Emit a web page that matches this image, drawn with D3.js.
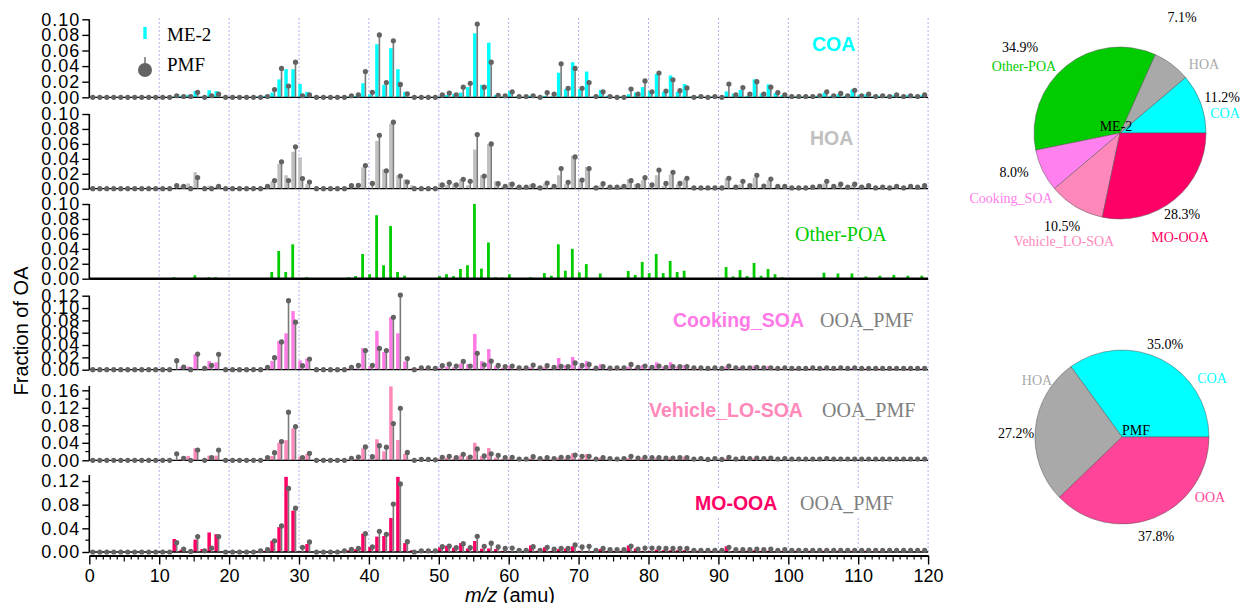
<!DOCTYPE html>
<html><head><meta charset="utf-8">
<script src="https://cdn.jsdelivr.net/npm/d3@7"></script>
<style>body{margin:0;background:#fff} svg{display:block}</style>
</head><body>
<svg id="c" width="1244" height="603"></svg>
<script>
// ---------- DATA (m/z 0..119) ----------
const mz = d3.range(0, 120);
const Z10 = [0,0,0,0,0,0,0,0,0,0];

const COA_ME2 = [...Z10,
 0,0,.001,.002,.003,.008,.001,.009,.008,0,
 0,0,0,0,.001,.002,.006,.023,.036,.036,
 .017,.007,0,0,0,0,0,.001,.002,.018,
 .004,.068,.016,.063,.036,.007,0,0,0,0,
 .001,.003,.004,.006,.013,.082,.016,.070,.003,.001,
 .008,.001,0,.002,0,.002,.001,.0315,.0105,.045,
 .0105,.033,.001,.0095,.002,0,.001,.004,.006,.013,
 .008,.030,.007,.028,.007,.017,.001,.001,0,.001,
 0,.0075,.0045,.0095,.002,.023,.005,.0165,.0055,.003,
 .001,.001,.001,.001,.002,.006,.002,.004,.002,.010,
 .003,.004,.001,.002,.001,.003,.001,.003,.001,.003];
const COA_PMF = [...Z10,
 0,0,.002,.001,.001,.0065,0,.002,.004,0,
 0,0,0,0,0,.001,.010,.037,.0145,.045,
 .002,.003,0,0,0,0,0,.002,.003,.033,
 .0065,.080,.019,.0725,.0165,.0045,0,0,0,0,
 .003,.0055,.003,.013,.018,.094,.013,.045,.0025,.002,
 .007,.001,.001,.002,0,.006,.004,.043,.0115,.037,
 .0115,.019,.001,.007,.001,0,0,.0105,.004,.021,
 .007,.031,.008,.0225,.0085,.012,0,.001,0,.001,
 0,.017,.003,.0125,.004,.020,.004,.013,.006,.003,
 .001,.001,.001,.001,.002,.007,.002,.005,.002,.009,
 .002,.004,.001,.002,.001,.003,.001,.002,.001,.003];
const HOA_ME2 = [...Z10,
 0,0,.001,.004,.007,.022,0,.004,.003,0,
 0,0,0,0,.001,.002,.0098,.0335,.018,.0495,
 .042,.006,0,0,0,0,0,.002,.003,.0285,
 .001,.064,.026,.087,.018,.0125,.0045,.001,0,.001,
 .007,.005,.007,.0125,.0045,.0525,.018,.060,.010,.003,
 .009,.003,.002,.006,.003,.007,.002,.018,.006,.044,
 .0115,.029,.002,.0045,.002,.002,.004,.0125,.006,.0115,
 .002,.018,.004,.019,.0055,.0125,.001,.001,.001,.001,
 .001,.014,.002,.006,.002,.015,.002,.0115,.002,.002,
 .001,.001,.001,.001,.002,.007,.002,.004,.002,.005,
 .002,.003,.001,.002,.001,.003,.001,.002,.001,.003];
const HOA_PMF = [...Z10,
 0,0,.004,.003,0,.015,0,0,.003,0,
 0,0,0,0,0,.003,.011,.036,.011,.056,
 .0135,.009,0,0,0,0,0,.004,.0045,.031,
 .007,.0715,.024,.089,.017,.009,0,0,0,0,
 .005,.0085,.005,.0125,.010,.0725,.017,.060,.0067,.003,
 .006,.002,.002,.004,.001,.0075,.003,.027,.0085,.0425,
 .0115,.027,.001,.0067,.002,.002,.003,.0107,.004,.0147,
 .005,.025,.007,.022,.007,.014,.001,.001,.001,.001,
 .001,.014,.002,.010,.004,.018,.0035,.013,.003,.003,
 .001,.001,.001,.002,.003,.010,.003,.006,.002,.006,
 .002,.004,.001,.002,.001,.003,.001,.003,.002,.004];
const OPOA_ME2 = [...Z10,
 0,0,.002,.001,0,.0045,0,.002,.002,0,
 0,0,0,0,0,.001,.009,.037,.009,.046,
 0,.002,0,0,0,0,0,.002,.0035,.033,
 .006,.085,.018,.0705,.009,.004,0,0,0,0,
 .0035,.006,.0035,.013,.018,.100,.0135,.0485,.002,.0015,
 .006,0,0,.002,0,.0075,.004,.046,.0107,.040,
 .0085,.0195,0,.007,0,0,0,.0103,.005,.0225,
 .0075,.033,.0075,.0237,.009,.0107,0,.001,0,.001,
 0,.0155,.003,.0115,.0035,.021,.004,.013,.006,.002,
 .001,0,.001,.001,0,.008,0,.007,0,.007,
 0,.003,0,.004,0,.005,0,.004,0,.004];
const COOK_ME2 = [...Z10,
 0,0,0,.0043,.005,.025,.001,.014,.012,0,
 0,0,0,0,0,.002,.014,.0465,.059,.095,
 .015,.018,0,0,0,0,0,.002,.002,.035,
 .0054,.063,.0287,.085,.059,.0135,.002,.002,.002,.001,
 .003,.005,.004,.010,.009,.058,.014,.0335,.006,.003,
 .0065,.002,.002,.004,.002,.004,.002,.019,.0075,.0205,
 .004,.014,.002,.009,.002,.002,.002,.005,.003,.0075,
 .003,.012,.005,.012,.005,.0075,.002,.002,.001,.002,
 .001,.0054,.002,.004,.002,.0065,.002,.006,.002,.002,
 .001,.002,.001,.002,.001,.003,.001,.002,.001,.003,
 .001,.002,.001,.002,.001,.002,.001,.002,.001,.002];
const COOK_PMF = [...Z10,
 0,0,.0146,.0043,0,.0254,.002,.007,.025,0,
 0,0,0,0,0,.004,.0195,.045,.112,.077,
 .0065,.0173,0,0,0,0,0,.004,.007,.031,
 .007,.0345,.031,.085,.121,.018,0,.003,.003,.002,
 .0065,.009,.006,.0135,.006,.0265,.008,.014,.007,.005,
 .006,.003,.003,.0075,.003,.0065,.004,.0054,.005,.011,
 .007,.0086,.0025,.005,.0025,.003,.003,.0086,.004,.006,
 .004,.006,.004,.005,.005,.005,.003,.003,.002,.003,
 .002,.006,.003,.003,.003,.004,.003,.003,.002,.003,
 .002,.002,.002,.003,.002,.003,.002,.003,.002,.003,
 .002,.002,.002,.002,.002,.002,.002,.002,.002,.002];
const VEH_ME2 = [...Z10,
 0,0,0,.003,.010,.0275,.001,.0107,.0107,0,
 0,0,0,0,0,.002,.010,.040,.046,.073,
 .0085,.0145,0,0,0,0,0,.002,.003,.027,
 .002,.048,.0206,.169,.0465,.015,.001,.001,.001,.001,
 .004,.006,.004,.0115,.009,.040,.010,.028,.006,.003,
 .004,.001,.001,.004,.001,.003,.001,.006,.004,.016,
 .004,.0145,.002,.006,.001,.001,.001,.005,.002,.006,
 .002,.006,.002,.006,.002,.0084,.001,.001,.001,.001,
 .001,.004,.001,.002,.001,.005,.001,.004,.001,.001,
 .001,.001,.001,.001,.001,.002,.001,.002,.001,.002,
 .001,.001,.001,.001,.001,.001,.001,.001,.001,.001];
const VEH_PMF = [...Z10,
 0,0,.015,.0045,0,.0235,0,.006,.0235,0,
 0,0,0,0,0,.006,.0175,.043,.110,.077,
 .006,.016,0,0,0,0,0,.0045,.0076,.0305,
 .0084,.0335,.030,.084,.119,.018,0,.002,.002,.001,
 .007,.009,.006,.0137,.0076,.026,.010,.015,.0115,.006,
 .007,.003,.003,.0084,.004,.006,.004,.007,.007,.012,
 .009,.009,.003,.006,.004,.003,.004,.009,.005,.007,
 .006,.006,.005,.005,.006,.006,.003,.004,.002,.004,
 .002,.007,.003,.005,.004,.005,.004,.005,.003,.004,
 .003,.003,.003,.003,.003,.004,.003,.003,.003,.003,
 .003,.003,.003,.003,.003,.003,.003,.003,.003,.003];
const MO_ME2 = [...Z10,
 0,0,.022,.004,0,.021,.005,.033,.030,0,
 0,0,0,0,.001,.002,.019,.042,.127,.070,
 .001,.0135,0,0,0,0,0,.003,.005,.031,
 .0085,.026,.027,.0575,.127,.015,.003,.001,.001,.001,
 .008,.0107,.0073,.015,.006,.0186,.0056,.006,.005,.002,
 .001,.001,.001,.011,.002,.008,.002,.005,.006,.0096,
 .002,.001,.001,.005,.002,.002,.002,.011,.006,.002,
 .002,.004,.003,.003,.003,.003,.002,.002,.001,.002,
 .001,.0096,.002,.002,.002,.003,.002,.002,.001,.002,
 .001,.002,.001,.002,.001,.002,.001,.002,.001,.002,
 .001,.002,.001,.001,.001,.001,.001,.001,.001,.001];
const MO_PMF = [...Z10,
 0,0,.0158,.005,.001,.026,.002,.0068,.026,0,
 0,0,0,0,.002,.004,.019,.044,.1075,.074,
 .008,.017,0,0,0,0,.002,.0045,.006,.031,
 .0085,.035,.030,.081,.115,.0175,0,.002,.002,.002,
 .009,.010,.0073,.014,.0073,.0265,.0096,.015,.0085,.006,
 .0068,.003,.003,.009,.003,.008,.005,.006,.006,.012,
 .0085,.0096,.003,.006,.004,.004,.004,.010,.005,.0068,
 .0068,.0068,.006,.006,.006,.006,.003,.003,.003,.003,
 .003,.008,.004,.004,.004,.005,.004,.005,.003,.004,
 .003,.003,.003,.003,.003,.003,.003,.003,.003,.003,
 .003,.003,.003,.003,.003,.003,.003,.003,.003,.003];

const xTickValues = d3.range(0, 121, 10);
const yTicks100 = [0, .02, .04, .06, .08, .10];
const yTicks120 = [0, .02, .04, .06, .08, .10, .12];
const yTicks160 = [0, .04, .08, .12, .16];
const yTicks130 = [0, .04, .08, .12];

const pieME2Names = ["COA", "HOA", "Other-POA", "Cooking_SOA", "Vehicle_LO-SOA", "MO-OOA"];
const pieME2Values = [11.2, 7.1, 34.9, 8.0, 10.5, 28.3];
const piePMFNames = ["COA", "HOA", "OOA"];
const piePMFValues = [35.0, 27.2, 37.8];

// ---------- STYLE / LAYOUT ----------
const C = {coa:"#00ffff", hoa:"#c0c0c0", opoa:"#00cc00", cook:"#ff7ae6", veh:"#ff88bb", mo:"#ff0066", ooa:"#ff4499", pmf:"#636363", stem:"#7a7a7a", grid:"#aeb0f0"};
const SANS = "'Liberation Sans', Arial, Helvetica, sans-serif";
const SERIF = "'Liberation Serif', 'Times New Roman', serif";

const svg = d3.select("#c");
const x = d3.scaleLinear().domain([0, 120]).range([89.3, 928.1]);

// grid
svg.append("g").selectAll("line").data(xTickValues.filter(d => d > 0)).join("line")
  .attr("x1", d => x(d)).attr("x2", d => x(d)).attr("y1", 18).attr("y2", 553)
  .attr("stroke", C.grid).attr("stroke-width", 1).attr("stroke-dasharray", "2,2");

const panels = [
  {me2: COA_ME2, pmf: COA_PMF, color: C.coa, y0: 97.3, max: 0.10, top: 0.10, ticks: yTicks100, minor: [], yMax: 19.3},
  {me2: HOA_ME2, pmf: HOA_PMF, color: C.hoa, y0: 188.7, max: 0.10, top: 0.10, ticks: yTicks100, minor: [], yMax: 114},
  {me2: OPOA_ME2, pmf: null, color: C.opoa, y0: 278.7, max: 0.10, top: 0.10, ticks: yTicks100, minor: [], yMax: 204},
  {me2: COOK_ME2, pmf: COOK_PMF, color: C.cook, y0: 369.7, max: 0.12, top: 0.12, ticks: yTicks120, minor: [], yMax: 295.7},
  {me2: VEH_ME2, pmf: VEH_PMF, color: C.veh, y0: 460.3, max: 0.16, top: 0.17, ticks: yTicks160, minor: [.02, .06, .10, .14], yMax: 390.3},
  {me2: MO_ME2, pmf: MO_PMF, color: C.mo, y0: 552, max: 0.12, top: 0.13, ticks: yTicks130, minor: [.02, .06, .10], yMax: 481}
];

const bw = x(0.5) - x(0);
panels.forEach((p, i) => {
  const y = d3.scaleLinear().domain([0, p.max]).range([p.y0, p.yMax]);
  const g = svg.append("g");
  g.selectAll("rect").data(mz.filter(m => p.me2[m] > 0)).join("rect")
    .attr("x", m => x(m - 0.1)).attr("width", p.pmf ? bw : bw * 0.8)
    .attr("y", m => y(p.me2[m])).attr("height", m => p.y0 - y(p.me2[m]))
    .attr("fill", p.color);
  g.append("line").attr("x1", x(0)).attr("x2", x(120)).attr("y1", p.y0).attr("y2", p.y0)
    .attr("stroke", "#000").attr("stroke-width", p.pmf ? 1.3 : 2.4);
  if (p.pmf) {
    g.append("g").selectAll("line").data(mz).join("line")
      .attr("x1", m => x(m + 0.5)).attr("x2", m => x(m + 0.5))
      .attr("y1", p.y0).attr("y2", m => y(p.pmf[m]))
      .attr("stroke", C.stem).attr("stroke-width", 1.6);
    g.append("g").selectAll("circle").data(mz).join("circle")
      .attr("cx", m => x(m + 0.5)).attr("cy", m => y(p.pmf[m])).attr("r", 2.6)
      .attr("fill", C.pmf);
  }
  const ay = svg.append("g").attr("transform", `translate(${x(0)},0)`)
    .call(d3.axisLeft(y).tickValues(p.ticks).tickFormat(d3.format(".2f")).tickSize(7).tickSizeOuter(0).tickPadding(2));
  ay.select(".domain").attr("d", `M0,${p.y0}V${y(p.top)}`).attr("stroke-width", 1.6);
  ay.selectAll(".tick line").attr("stroke-width", 1.4);
  ay.selectAll("text").attr("font-family", SANS).attr("font-size", 18).attr("letter-spacing", 1).attr("fill", "#000");
  ay.selectAll(".minor").data(p.minor).join("line").attr("class", "minor")
    .attr("x1", -4).attr("x2", 0).attr("y1", d => y(d)).attr("y2", d => y(d))
    .attr("stroke", "#000").attr("stroke-width", 1.2);
});

// x axis
const ax = svg.append("g").attr("transform", "translate(0,555.5)")
  .call(d3.axisBottom(x).tickValues(xTickValues).tickFormat(d3.format("d")).tickSize(9).tickSizeOuter(0).tickPadding(5));
ax.select(".domain").attr("stroke-width", 2);
ax.selectAll(".tick line").attr("stroke-width", 1.4);
ax.selectAll("text").attr("font-family", SANS).attr("font-size", 18).attr("fill", "#000");
ax.selectAll(".minor").data(d3.range(1, 120).filter(d => d % 10 !== 0)).join("line").attr("class", "minor")
  .attr("x1", d => x(d)).attr("x2", d => x(d)).attr("y1", 0).attr("y2", d => d % 5 === 0 ? 6 : 4)
  .attr("stroke", "#000").attr("stroke-width", 1.2);

// axis titles
svg.append("text").attr("transform", "translate(28,331) rotate(-90)").attr("text-anchor", "middle")
  .attr("font-family", SANS).attr("font-size", 20).text("Fraction of OA");
const xt = svg.append("text").attr("x", 465).attr("y", 602).attr("font-family", SANS).attr("font-size", 20);
xt.append("tspan").attr("font-style", "italic").text("m/z");
xt.append("tspan").text(" (amu)");

// legend
svg.append("rect").attr("x", 143.3).attr("y", 27).attr("width", 3.4).attr("height", 12).attr("fill", C.coa);
svg.append("text").attr("x", 167).attr("y", 41).attr("font-family", SERIF).attr("font-size", 19).text("ME-2");
svg.append("line").attr("x1", 145).attr("x2", 145).attr("y1", 57).attr("y2", 68).attr("stroke", C.stem).attr("stroke-width", 1.6);
svg.append("circle").attr("cx", 145).attr("cy", 70).attr("r", 7).attr("fill", C.pmf);
svg.append("text").attr("x", 167).attr("y", 71).attr("font-family", SERIF).attr("font-size", 19).text("PMF");

// panel labels
function label(txt, xx, yy, color, font, weight, bg) {
  const t = svg.append("text").attr("x", xx).attr("y", yy).attr("font-family", font).attr("font-size", font === SANS ? 19.5 : 20)
    .attr("font-weight", weight).attr("fill", color).text(txt);
  if (bg) {
    const b = t.node().getBBox();
    svg.insert("rect", () => t.node()).attr("x", b.x - 4).attr("y", b.y - 2).attr("width", b.width + 8).attr("height", b.height + 4).attr("fill", "#fff");
  }
  return t;
}
label("COA", 812, 51, C.coa, SANS, "bold");
label("HOA", 810, 145, C.hoa, SANS, "bold");
label("Other-POA", 795, 241, C.opoa, SERIF, "normal", true);
label("Cooking_SOA", 673, 327, C.cook, SANS, "bold");
label("OOA_PMF", 820, 327, "#808080", SERIF, "normal");
label("Vehicle_LO-SOA", 649, 417, C.veh, SANS, "bold");
label("OOA_PMF", 822, 417, "#808080", SERIF, "normal");
label("MO-OOA", 695, 510, C.mo, SANS, "bold", true);
label("OOA_PMF", 800, 510, "#808080", SERIF, "normal", true);

// pies
function drawPie(cx, cy, r, names, values, colors, center, labels) {
  const pie = d3.pie().sort(null).value(d => d).startAngle(Math.PI / 2).endAngle(Math.PI / 2 - 2 * Math.PI);
  const arc = d3.arc().innerRadius(0).outerRadius(r);
  const g = svg.append("g").attr("transform", `translate(${cx},${cy})`);
  g.selectAll("path").data(pie(values)).join("path").attr("d", arc)
    .attr("fill", (d, i) => colors[i]).attr("stroke", "#555").attr("stroke-width", 0.5);
  g.append("text").attr("x", center[0]).attr("y", center[1]).attr("text-anchor", "middle")
    .attr("font-family", SERIF).attr("font-size", 14).text(center[2]);
  labels.forEach((l, i) => {
    svg.append("text").attr("x", l[0]).attr("y", l[1]).attr("text-anchor", "middle")
      .attr("font-family", SERIF).attr("font-size", 14).text(values[i].toFixed(1) + "%");
    svg.append("text").attr("x", l[2]).attr("y", l[3]).attr("text-anchor", "middle")
      .attr("font-family", SERIF).attr("font-size", 14).attr("fill", colors[i]).text(names[i]);
  });
}
drawPie(1120, 133, 86, pieME2Names, pieME2Values,
  [C.coa, "#a9a9a9", C.opoa, "#ff80ee", C.veh, C.mo], [-4, -2, "ME-2"],
  [[1222, 102, 1225, 118], [1182, 22, 1204, 69], [1020, 52, 1024, 71], [1014, 177, 1011, 203], [1062, 231, 1064, 246], [1182, 219, 1180, 242]]);
drawPie(1122, 437, 87, piePMFNames, piePMFValues,
  [C.coa, "#a9a9a9", C.ooa], [14, -2, "PMF"],
  [[1165, 349, 1212, 383], [1016, 438, 1037, 385], [1156, 541, 1210, 502]]);
</script>
</body></html>
